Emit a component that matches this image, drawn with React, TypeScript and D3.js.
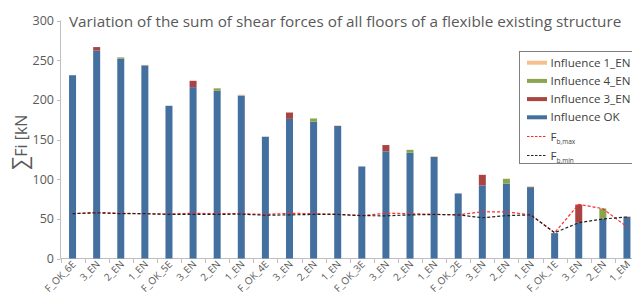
import React from "react";
import * as d3 from "d3";

const categories = ["F_OK_6E","3_EN","2_EN","1_EN","F_OK_5E","3_EN","2_EN","1_EN","F_OK_4E","3_EN","2_EN","1_EN","F_OK_3E","3_EN","2_EN","1_EN","F_OK_2E","3_EN","2_EN","1_EN","F_OK_1E","3_EN","2_EN","1_EM"];
const influenceOK = [231,262,252,243.5,192.5,216,211.5,205.5,153.5,176,172.5,167,116,135,133.5,128,82,92,94.5,90,32,45,50,52.5];
const influence3 = [0,4.5,0,0,0,8,0,0,0,8,0,0,0,8,0,0,0,13.5,0,0,0,23,0,0];
const influence4 = [0,0,1.5,0,0,0,3,0,0,0,4,0,0,0,3.5,0,0,0,6,0,0,0,13,0];
const influence1 = [0,0,0,0.6,0,0,0,1,0,0,0,0.8,0,0,0,1,0,0,0,1,0,0,0,1];
const fbMax = [56.5,58.2,57,56.5,56,57,56.5,56.5,55.5,57,56.5,55.7,54,57,56.5,55.7,55,59,58.6,55.2,32.5,68.3,62.8,40];
const fbMin = [56.5,57.5,56.5,56.5,55.5,55.5,55.5,56,54.5,55,55.5,55.5,54,53.8,55,55.5,55,51.4,54,55,32.5,45.1,49.8,52.3];
const yTicks = [0,50,100,150,200,250,300];

const C_OK = "#44709f";
const C_3 = "#a94442";
const C_4 = "#89a54e";
const C_1 = "#f6bf8f";
const TXT = "#595959";
const FONT = "'Open Sans', 'Noto Sans', sans-serif";

export default function App() {
  const W = 632, H = 301;
  const idx = categories.map((_, i) => String(i));
  const x = d3.scaleBand().domain(idx).range([60.5, 639]).padding(0);
  const y = d3.scaleLinear().domain([0, 300]).range([258.5, 20.5]);
  const bw = 7;
  const cx = (i: number) => (x(String(i)) as number) + x.bandwidth() / 2;

  const line = d3.line<number>().x((_, i) => cx(i)).y(d => y(d));

  const stacks = categories.map((_, i) => {
    const segs = [
      { v: influenceOK[i], c: C_OK },
      { v: influence3[i], c: C_3 },
      { v: influence4[i], c: C_4 },
      { v: influence1[i], c: C_1 },
    ];
    let base = 0;
    return segs.map(s => { const r = { y0: base, y1: base + s.v, c: s.c }; base += s.v; return r; });
  });

  const legendItems = [
    { label: "Influence 1_EN", c: C_1 },
    { label: "Influence 4_EN", c: C_4 },
    { label: "Influence 3_EN", c: C_3 },
    { label: "Influence OK", c: C_OK },
  ];
  const legY = [62.7, 80.9, 99.1, 117.3, 136.5, 155.5];

  return (
    <svg width={W} height={H} style={{ position: "absolute", left: 0, top: 0, background: "#fff" }} fontFamily={FONT}>
      <rect x={0} y={0} width={W} height={H} fill="#fff" />
      <text x={69} y={27} fontSize={15.3} fill={TXT}>Variation of the sum of shear forces of all floors of a flexible existing structure</text>
      <text transform={`translate(27,170) rotate(-90)`} textAnchor="start" fontSize={16} fill={TXT}><tspan fontSize={21}>∑</tspan>Fi [kN</text>
      {/* y axis */}
      <line x1={60.5} x2={60.5} y1={y(300)} y2={y(0)} stroke="#bfbfbf" />
      {yTicks.map(t => (
        <g key={t}>
          <line x1={57} x2={60.5} y1={Math.round(y(t)) + 0.5} y2={Math.round(y(t)) + 0.5} stroke="#bfbfbf" />
          <text x={54} y={y(t) + 4.5} textAnchor="end" fontSize={12.5} fill={TXT}>{t}</text>
        </g>
      ))}
      {/* x axis */}
      <line x1={60.5} x2={W} y1={258.5} y2={258.5} stroke="#bfbfbf" />
      {idx.map(k => (
        <line key={k} x1={Math.round(x(k) as number) + 0.5} x2={Math.round(x(k) as number) + 0.5} y1={258.5} y2={263} stroke="#bfbfbf" />
      ))}
      {/* bars */}
      {stacks.map((segs, i) => (
        <g key={i}>
          {segs.filter(s => s.y1 > s.y0).map((s, j) => (
            <rect key={j} x={cx(i) - bw / 2} width={bw} y={y(s.y1)} height={y(s.y0) - y(s.y1)} fill={s.c} />
          ))}
        </g>
      ))}
      {/* lines */}
      <path d={line(fbMax) as string} fill="none" stroke="#ff2a2a" strokeWidth={1.2} strokeDasharray="3,2" />
      <path d={line(fbMin) as string} fill="none" stroke="#222" strokeWidth={1.2} strokeDasharray="3,2" />
      {/* x labels */}
      {categories.map((c, i) => (
        <text key={i} transform={`translate(${cx(i) + 4},${265}) rotate(-45)`} textAnchor="end" fontSize={10} fill={TXT}>{c}</text>
      ))}
      {/* legend */}
      <rect x={519.5} y={51.5} width={130} height={112} fill="#fff" stroke="#7f7f7f" />
      {legendItems.map((it, i) => (
        <g key={i}>
          <rect x={527} y={legY[i] - 2} width={20} height={4} fill={it.c} />
          <text x={550.5} y={legY[i] + 4} fontSize={11.6} fill="#404040">{it.label}</text>
        </g>
      ))}
      <line x1={527} x2={547} y1={legY[4]} y2={legY[4]} stroke="#ff2a2a" strokeWidth={1} strokeDasharray="2.5,1.5" />
      <text x={550.5} y={legY[4] + 4} fontSize={11.6} fill="#404040">F<tspan fontSize={6.5} dy={3}>b,max</tspan></text>
      <line x1={527} x2={547} y1={legY[5]} y2={legY[5]} stroke="#222" strokeWidth={1} strokeDasharray="2.5,1.5" />
      <text x={550.5} y={legY[5] + 4} fontSize={11.6} fill="#404040">F<tspan fontSize={6.5} dy={3}>b,min</tspan></text>
    </svg>
  );
}
